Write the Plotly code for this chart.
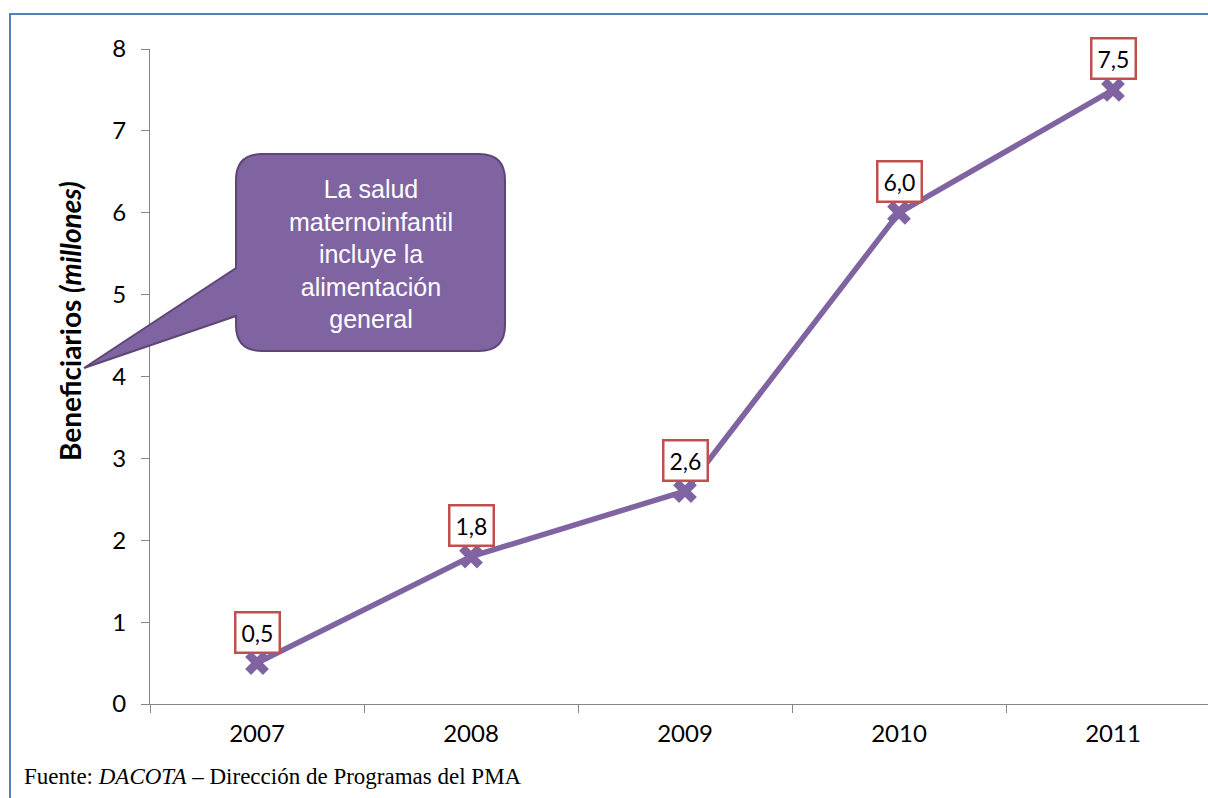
import plotly.graph_objects as go

# Beneficiarios de salud maternoinfantil (millones)
years = ["2007", "2008", "2009", "2010", "2011"]
beneficiarios = [0.5, 1.8, 2.6, 6.0, 7.5]
y_ticks = [0, 1, 2, 3, 4, 5, 6, 7, 8]

PURPLE = "#8064A2"
RED = "#C0504D"
AXIS_GREY = "#868686"
SANS = "Lato, Carlito, sans-serif"
W, H = 1208, 798
L, R, T, B = 150, 0, 49, 94

fig = go.Figure()
fig.add_trace(go.Scatter(
    x=years, y=beneficiarios, mode="lines+markers",
    line=dict(color=PURPLE, width=5.5),
    marker=dict(symbol="x", size=21, color=PURPLE, line=dict(width=0)),
    hoverinfo="skip", showlegend=False,
))

# value labels in red-bordered boxes above each point
for i, v in enumerate(beneficiarios):
    fig.add_annotation(
        x=i, y=v, xref="x", yref="y", yshift=31,
        xanchor="center", yanchor="middle",
        text=f"{v:.1f}".replace(".", ","), showarrow=False,
        font=dict(family=SANS, size=23, color="black"),
        bgcolor="white", bordercolor=RED, borderwidth=2.5, borderpad=5,
    )

pw = W - L - R
ph = H - T - B


def px(x):
    return (x - L) / pw


def py(y):
    return (H - B - y) / ph


# speech-bubble callout (rounded rectangle with a pointer)
x0, x1, y0, y1, r = 236, 505, 154, 351, 26
tip = (84, 368)
pa, pb = 268, 316
pts = [
    f"M {px(x0 + r)},{py(y0)}",
    f"L {px(x1 - r)},{py(y0)}",
    f"Q {px(x1)},{py(y0)} {px(x1)},{py(y0 + r)}",
    f"L {px(x1)},{py(y1 - r)}",
    f"Q {px(x1)},{py(y1)} {px(x1 - r)},{py(y1)}",
    f"L {px(x0 + r)},{py(y1)}",
    f"Q {px(x0)},{py(y1)} {px(x0)},{py(y1 - r)}",
    f"L {px(x0)},{py(pb)}",
    f"L {px(tip[0])},{py(tip[1])}",
    f"L {px(x0)},{py(pa)}",
    f"L {px(x0)},{py(y0 + r)}",
    f"Q {px(x0)},{py(y0)} {px(x0 + r)},{py(y0)}",
    "Z",
]
fig.add_shape(type="path", path=" ".join(pts), xref="paper", yref="paper",
              fillcolor=PURPLE, line=dict(color="#5C4776", width=2), layer="above")

fig.add_annotation(
    x=px((x0 + x1) / 2), y=py(254), xref="paper", yref="paper",
    xanchor="center", yanchor="middle",
    text="La salud<br>maternoinfantil<br>incluye la<br>alimentación<br>general",
    showarrow=False, align="center",
    font=dict(family="Arial, 'Liberation Sans', sans-serif", size=25, color="white"),
)

# outer chart border
fig.add_shape(type="rect", xref="paper", yref="paper",
              x0=px(10), y0=py(820), x1=px(1230), y1=py(14),
              line=dict(color="#4F81BD", width=2), fillcolor="rgba(0,0,0,0)", layer="below")

# y-axis title
fig.add_annotation(
    x=px(70), y=py(321), xref="paper", yref="paper", textangle=-90,
    xanchor="center", yanchor="middle",
    text="<b>Beneficiarios <i>(millones)</i></b>", showarrow=False,
    font=dict(family=SANS, size=28, color="black"),
)

# source note
fig.add_annotation(
    x=px(22), y=py(776), xref="paper", yref="paper", xanchor="left", yanchor="middle",
    text="Fuente: <i>DACOTA</i> – Dirección de Programas del PMA", showarrow=False,
    font=dict(family="Liberation Serif, serif", size=23, color="black"),
)

fig.update_layout(
    width=W, height=H,
    margin=dict(l=L, r=R, t=T, b=B, pad=0),
    paper_bgcolor="white", plot_bgcolor="white",
    xaxis=dict(
        type="category", range=[-0.5, 4.5 - 12 / 214],
        tickson="boundaries", ticks="outside", ticklen=8, tickcolor=AXIS_GREY,
        showline=True, linecolor=AXIS_GREY, linewidth=1, showgrid=False,
        tickfont=dict(family=SANS, size=24, color="black"),
        ticklabelstandoff=8,
    ),
    yaxis=dict(
        range=[0, 8], tickvals=y_ticks, ticks="outside", ticklen=8, tickcolor=AXIS_GREY,
        showline=True, linecolor=AXIS_GREY, linewidth=1, showgrid=False, zeroline=False,
        tickfont=dict(family=SANS, size=24, color="black"),
        ticklabelstandoff=10,
    ),
)

fig.write_html("out.html")
